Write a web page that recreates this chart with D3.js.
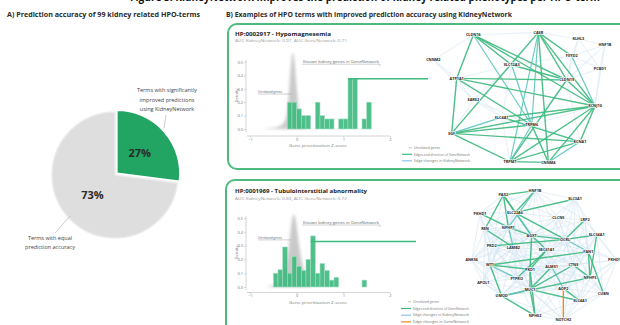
<!DOCTYPE html>
<html><head><meta charset="utf-8">
<script src="https://cdn.jsdelivr.net/npm/d3@7"></script>
<style>body{margin:0;background:#fff}svg{display:block}text{font-family:"Open Sans","Liberation Sans",sans-serif}</style>
</head><body><svg id="c" width="620" height="325"></svg>
<script>
// ---------------- DATA ----------------
const headerText = "Figure 3. KidneyNetwork improves the prediction of kidney related phenotypes per HPO-term";
const panelATitle = "A) Prediction accuracy of 99 kidney related HPO-terms";
const panelBTitle = "B) Examples of HPO terms with improved prediction accuracy using KidneyNetwork";

const pieCategories = ["Terms with significantly improved predictions using KidneyNetwork", "Terms with equal prediction accuracy"];
const pieValues = [27, 73];
const pieLabels = ["27%", "73%"];
const pieNoteTop = ["Terms with significantly", "improved predictions", "using KidneyNetwork"];
const pieNoteBottom = ["Terms with equal", "prediction accuracy"];

const exampleTitles = ["HP:0002917 - Hypomagnesemia", "HP:0001969 - Tubulointerstitial abnormality"];
const exampleSubtitles = ["AUC KidneyNetwork: 0.97, AUC GeneNetwork: 0.71", "AUC KidneyNetwork: 0.83, AUC GeneNetwork: 0.72"];

const yTickValues = [0, 0.1, 0.2, 0.3, 0.4, 0.5];
const xTickValues = [-1, 0, 1, 2];
const yAxisTitle = "Density";
const xAxisTitle = "Gene prioritization Z-score";
const binWidth = 0.1;

const hist1BinStart = [-0.2, -0.1, 0.0, 0.1, 0.2, 0.4, 0.5, 0.6, 0.7, 0.9, 1.0, 1.1, 1.2, 1.4, 1.5];
const hist1Density  = [0.2, 0.2, 0.15, 0.1, 0.1, 0.2, 0.1, 0.075, 0.075, 0.075, 0.075, 0.375, 0.375, 0.075, 0.2];
const null1X = [-0.75, -0.6, -0.45, -0.35, -0.25, -0.2, -0.15, -0.1, -0.05, 0, 0.05, 0.1, 0.2];
const null1Y = [0, 0.005, 0.01, 0.02, 0.05, 0.12, 0.35, 0.6, 0.55, 0.3, 0.12, 0.04, 0];

const hist2BinStart = [-0.5, -0.4, -0.3, -0.2, -0.1, 0.0, 0.1, 0.2, 0.3, 0.4, 0.5, 0.6, 0.7, 0.8, 1.4];
const hist2Density  = [0.1, 0.125, 0.29, 0.1, 0.22, 0.15, 0.12, 0.2, 0.37, 0.1, 0.17, 0.12, 0.05, 0.07, 0.05];
const null2X = [-0.7, -0.5, -0.4, -0.3, -0.2, -0.15, -0.1, -0.05, 0, 0.05, 0.1, 0.15, 0.2, 0.3];
const null2Y = [0, 0.01, 0.03, 0.08, 0.2, 0.35, 0.5, 0.55, 0.45, 0.3, 0.2, 0.12, 0.06, 0];

const histNotes = ["Unrelated genes", "Known kidney genes in GeneNetwork"];
const highlightValue = [1.1, 0.3];
const highlightLevel = [0.375, 0.33];

const legend1Labels = ["Unrelated genes", "Edges and direction of GeneNetwork", "Edge changes in KidneyNetwork"];
const legend2Labels = ["Unrelated genes", "Edges and direction of GeneNetwork", "Edge changes in KidneyNetwork", "Edge changes in GeneNetwork"];

// network 1 layout (layout units)
const net1Names = ["CLDN16","CASR","KLHL3","HNF1B","FXYD2","PCBD1","CNNM2","SLC12A3","ATP1A1","CLDN19","SARS2","KCNJ10","SLC4A1","TRPM6","EGF","KCNA1","TRPM7","CNNM4"];
const net1X = [160,355,475,555,455,540,40,275,110,440,160,525,245,335,95,480,270,385];
const net1Y = [105,97,117,135,168,205,180,195,235,240,300,318,352,375,400,425,485,487];
const net1Edges = [
 ["CLDN16","ATP1A1",0],["CLDN16","SLC12A3",0],["CLDN16","CLDN19",0],["CLDN16","KCNJ10",0],["CLDN16","TRPM6",1],
 ["CASR","CLDN19",0],["CASR","KCNJ10",0],["CASR","TRPM6",1],["CASR","CNNM4",0],["CASR","TRPM7",1],["CASR","EGF",0],
 ["ATP1A1","CLDN19",0],["ATP1A1","KCNJ10",0],["ATP1A1","EGF",0],["ATP1A1","TRPM6",0],
 ["EGF","KCNJ10",0],["EGF","TRPM6",0],["EGF","TRPM7",0],["EGF","KCNA1",0],["EGF","SLC4A1",1],
 ["SLC12A3","CLDN19",0],["SLC12A3","TRPM6",1],["CLDN19","KCNJ10",0],["CLDN19","TRPM7",0],
 ["KCNJ10","TRPM7",0],["KCNJ10","CNNM4",0],["KCNJ10","KCNA1",0],["KCNJ10","SLC4A1",0],
 ["TRPM7","CNNM4",0],["TRPM6","TRPM7",1],["TRPM6","CNNM4",0],["KCNA1","TRPM7",0],["KCNA1","CNNM4",1],
 ["SLC4A1","KCNA1",0],["FXYD2","KCNJ10",1],["CASR","FXYD2",0]
];

// network 2 layout (layout units)
const net2Names = ["HNF1B","PAX2","SLC3A1","PKHD1","SLC22A6","CLCN5","LRP2","REN","NPHP1","AGXT","SLC34A1","OCRL","PKD2","LAMB2","SEC61A1","FAN1","ANKS6","PKHD1L1","WT1","PKD1","ALMS1","CTNS","PTPRO","NPHP3","APOL1","MUC1","AQP2","CUBN","UMOD","SLC4A1","NPHS2","NOTCH2"];
const net2X = [345,250,465,180,285,415,495,195,265,335,530,435,215,280,380,505,155,590,210,330,395,460,290,510,190,330,430,550,245,480,345,430];
const net2Y = [62,75,87,130,128,143,150,177,172,197,195,208,228,232,240,245,270,270,285,298,290,285,325,323,338,358,355,370,378,393,437,450];
const net2Edges = [
 ["PAX2","SLC22A6",0],["PAX2","REN",0],["PAX2","AGXT",0],["HNF1B","SLC22A6",0],["SLC22A6","SLC3A1",0],["HNF1B","NPHP1",1],
 ["PAX2","NPHP1",0],["SLC22A6","AGXT",1],["SLC22A6","OCRL",0],["REN","LAMB2",0],["NPHP1","AGXT",0],["NPHP1","LAMB2",1],
 ["AGXT","OCRL",0],["AGXT","SEC61A1",0],["AGXT","PKD1",0],["OCRL","SLC34A1",0],["OCRL","FAN1",1],["LRP2","OCRL",0],
 ["SLC34A1","NPHP3",0],["WT1","FAN1",0],["PKD2","OCRL",0],["WT1","PKD1",0],["WT1","UMOD",0],["WT1","PTPRO",1],
 ["PKD1","SEC61A1",0],["PKD1","MUC1",0],["PKD1","NPHS2",0],["ALMS1","MUC1",0],["ALMS1","AQP2",1],["CTNS","NPHP3",0],
 ["CTNS","MUC1",0],["FAN1","NPHP3",0],["FAN1","CUBN",0],["UMOD","NPHP3",0],["MUC1","NPHS2",0],["MUC1","UMOD",1],
 ["MUC1","SLC4A1",0],["AQP2","SLC4A1",0],["UMOD","NPHS2",0],["PTPRO","SEC61A1",0],["HNF1B","PAX2",0],["PKHD1","NPHP1",0]
];
const net2OrangeEdges = [["AQP2","NOTCH2"]];

// ---------------- STYLE ----------------
const GREEN = "#3dba7e", PIEGREEN = "#22a463", TEAL = "#5fc6be", GRAY = "#dedede", FRAME = "#4cbb7d";
const svg = d3.select("#c");

const defs = svg.append("defs");
defs.append("filter").attr("id","blur").attr("x","-50%").attr("y","-50%").attr("width","200%").attr("height","200%")
  .append("feGaussianBlur").attr("stdDeviation", 1.6);
defs.append("filter").attr("id","soft").append("feGaussianBlur").attr("stdDeviation", 0.35);

// header fragment (cut off by the top edge, as in the reference)
svg.append("text").attr("x",130).attr("y",1.2).attr("font-size",13).attr("font-weight","bold").attr("fill","#111")
  .attr("textLength",470).attr("lengthAdjust","spacingAndGlyphs").text(headerText);

function fitText(g, str, x, y, size, w, opts={}) {
  const t = g.append("text").attr("x",x).attr("y",y).attr("font-size",size)
    .attr("fill", opts.fill || "#333").attr("font-weight", opts.weight || "normal")
    .attr("text-anchor", opts.anchor || "start").text(str);
  if (w) t.attr("textLength", w).attr("lengthAdjust","spacingAndGlyphs");
  return t;
}

// ---------------- PANEL A ----------------
fitText(svg, panelATitle, 7, 17, 6.5, 193, {weight:"bold", fill:"#2b2b2b"});
const pieG = svg.append("g").attr("transform","translate(115,175)");
const pie = d3.pie().sort(null).value(d => d)(pieValues);
const arc = d3.arc().innerRadius(0).outerRadius(63);
pieG.selectAll("path").data(pie).join("path")
  .attr("d", arc)
  .attr("transform", (d,i) => {
    if (i !== 0) return null;
    const m = (d.startAngle + d.endAngle) / 2;
    return `translate(${Math.sin(m)*2.5},${-Math.cos(m)*2.5})`;
  })
  .attr("fill", (d,i) => i === 0 ? PIEGREEN : GRAY)
  .attr("stroke", (d,i) => i === 0 ? "#fff" : "#ececec").attr("stroke-width", 1.5);
pieG.selectAll("text.pct").data(pie).join("text").attr("class","pct")
  .attr("transform", (d,i) => { const c = d3.arc().innerRadius(0).outerRadius(i===0?66:60).centroid(d); return `translate(${c[0]},${c[1]+4})`; })
  .attr("text-anchor","middle").attr("font-size",11).attr("font-weight","bold").attr("fill","#2a2a2a")
  .text((d,i) => pieLabels[i]);
pieNoteTop.forEach((s,i) => fitText(svg, s, 167, 92 + i*9.5, 5.5, null, {anchor:"middle", fill:"#444"}));
svg.append("line").attr("x1",166).attr("y1",115).attr("x2",164).attr("y2",128).attr("stroke","#aaa").attr("stroke-width",0.6);
pieNoteBottom.forEach((s,i) => fitText(svg, s, 50, 240 + i*9, 5.5, null, {anchor:"middle", fill:"#444"}));
svg.append("line").attr("x1",55).attr("y1",233).attr("x2",70).attr("y2",216).attr("stroke","#aaa").attr("stroke-width",0.6);

// ---------------- PANEL B ----------------
fitText(svg, panelBTitle, 226, 17, 6.5, 286, {weight:"bold", fill:"#2b2b2b"});
svg.append("rect").attr("x",228).attr("y",24).attr("width",420).attr("height",145).attr("rx",9)
  .attr("fill","none").attr("stroke",FRAME).attr("stroke-width",2);
svg.append("rect").attr("x",226).attr("y",180).attr("width",420).attr("height",170).attr("rx",9)
  .attr("fill","none").attr("stroke",FRAME).attr("stroke-width",2);

fitText(svg, exampleTitles[0], 235, 36, 6, 96, {weight:"bold", fill:"#222"});
fitText(svg, exampleSubtitles[0], 235, 42, 4, 112, {fill:"#999"});
fitText(svg, exampleTitles[1], 235, 193, 6, 132, {weight:"bold", fill:"#222"});
fitText(svg, exampleSubtitles[1], 235, 199.5, 4, 112, {fill:"#999"});

function drawHist(cfg) {
  const g = svg.append("g");
  const x = d3.scaleLinear().domain([-1, 2]).range([250, 390]);
  const y = d3.scaleLinear().domain([0, 0.5]).range([cfg.y0, cfg.y1]);
  const pts = cfg.nullX.map((v,i) => [v, cfg.nullY[i]]);
  g.append("path").datum(pts)
    .attr("d", d3.area().x(d => x(d[0])).y0(y(0)).y1(d => y(d[1])).curve(d3.curveBasis))
    .attr("fill","#b8b8b8").attr("opacity",0.75).attr("filter","url(#blur)");
  g.selectAll("rect.bar").data(cfg.starts).join("rect").attr("class","bar")
    .attr("x", d => x(d)).attr("width", d => x(d + binWidth) - x(d))
    .attr("y", (d,i) => y(cfg.dens[i])).attr("height", (d,i) => y(0) - y(cfg.dens[i]))
    .attr("fill", GREEN).attr("opacity",0.9).attr("stroke","#9fdcc0").attr("stroke-width",0.6).attr("filter","url(#soft)");
  const ya = g.append("g").attr("transform",`translate(246,0)`)
    .call(d3.axisLeft(y).tickValues(yTickValues).tickSize(2).tickPadding(1).tickFormat(d3.format(".1f")));
  const xa = g.append("g").attr("transform",`translate(0,${cfg.xAxisY})`)
    .call(d3.axisBottom(x).tickValues(xTickValues).tickSize(1.5).tickPadding(0.5).tickFormat(d3.format("d")));
  [ya, xa].forEach(a => {
    a.selectAll("path,line").attr("stroke","#bbb").attr("stroke-width",0.6);
    a.selectAll("text").attr("font-size",4).attr("fill","#777");
    a.select(".domain").attr("d", null);
  });
  g.append("line").attr("x1",246).attr("x2",246).attr("y1",cfg.y1-2).attr("y2",cfg.y0+3).attr("stroke","#bbb").attr("stroke-width",0.6);
  g.append("line").attr("x1",247).attr("x2",390).attr("y1",cfg.xAxisY).attr("y2",cfg.xAxisY).attr("stroke","#bbb").attr("stroke-width",0.6);
  fitText(g, yAxisTitle, 0, 0, 4, null, {fill:"#777", anchor:"middle"})
    .attr("transform",`translate(238,${(cfg.y0+cfg.y1)/2}) rotate(-90)`);
  fitText(g, xAxisTitle, 318, cfg.xAxisY + 11, 4, 58, {fill:"#777", anchor:"middle"});
  const yU = y(cfg.unrelY);
  fitText(g, histNotes[0], 258, yU, 3.8, 24, {fill:"#666"});
  g.append("line").attr("x1",258).attr("x2",x(-0.12)).attr("y1",yU+1.2).attr("y2",yU+1.2).attr("stroke","#888").attr("stroke-width",0.4);
  const yK = y(cfg.knownY);
  fitText(g, histNotes[1], 303, yK, 3.8, 76, {fill:"#666"});
  g.append("path").attr("d",`M302,${yK+1.5}H380v2`).attr("fill","none").attr("stroke","#888").attr("stroke-width",0.4);
  g.append("line").attr("x1", x(cfg.hv)).attr("x2", cfg.lineEnd)
    .attr("y1", y(cfg.hl)).attr("y2", y(cfg.hl)).attr("stroke",GREEN).attr("stroke-width",1.4);
}
drawHist({y0:129, y1:62, xAxisY:136, starts:hist1BinStart, dens:hist1Density, nullX:null1X, nullY:null1Y,
  unrelY:0.27, knownY:0.495, hv:highlightValue[0], hl:highlightLevel[0], lineEnd:428});
drawHist({y0:287, y1:218, xAxisY:292.5, starts:hist2BinStart, dens:hist2Density, nullX:null2X, nullY:null2Y,
  unrelY:0.35, knownY:0.46, hv:highlightValue[1], hl:highlightLevel[1], lineEnd:416});

function drawNet(names, nx, ny, edges, orange, yRange) {
  const g = svg.append("g");
  const x = d3.scaleLinear().domain([0,600]).range([420,620]);
  const y = d3.scaleLinear().domain([0, yRange[2]]).range([yRange[0], yRange[1]]);
  const idx = {}; names.forEach((n,i) => idx[n] = i);
  const faint = [];
  for (let i=0;i<names.length;i++) for (let j=i+1;j<names.length;j++) {
    const d = Math.hypot(nx[i]-nx[j], ny[i]-ny[j]);
    if (d < 200) faint.push([i,j]);
  }
  g.selectAll("line.f").data(faint).join("line").attr("class","f")
    .attr("x1",d=>x(nx[d[0]])).attr("y1",d=>y(ny[d[0]])).attr("x2",d=>x(nx[d[1]])).attr("y2",d=>y(ny[d[1]]))
    .attr("stroke","#cfe2f1").attr("stroke-width",1.2).attr("opacity",0.45).attr("filter","url(#soft)");
  g.selectAll("line.e").data(edges).join("line").attr("class","e")
    .attr("x1",d=>x(nx[idx[d[0]]])).attr("y1",d=>y(ny[idx[d[0]]]))
    .attr("x2",d=>x(nx[idx[d[1]]])).attr("y2",d=>y(ny[idx[d[1]]]))
    .attr("stroke",d=>d[2] ? TEAL : GREEN).attr("stroke-width",d=>d[2]?1.2:1.4).attr("opacity",0.9);
  g.selectAll("line.o").data(orange).join("line").attr("class","o")
    .attr("x1",d=>x(nx[idx[d[0]]])).attr("y1",d=>y(ny[idx[d[0]]]))
    .attr("x2",d=>x(nx[idx[d[1]]])).attr("y2",d=>y(ny[idx[d[1]]]))
    .attr("stroke","#f08a24").attr("stroke-width",1.4);
  g.selectAll("text").data(names).join("text")
    .attr("x",(d,i)=>x(nx[i])).attr("y",(d,i)=>y(ny[i])+1.4)
    .attr("text-anchor","middle").attr("font-size",3.8).attr("font-weight","bold").attr("fill","#222")
    .attr("stroke","#fff").attr("stroke-width",1.2).attr("paint-order","stroke").text(d=>d);
}
drawNet(net1Names, net1X, net1Y, net1Edges, [], [0,170,510]);
drawNet(net2Names, net2X, net2Y, net2Edges, net2OrangeEdges, [170,325,465]);

function drawLegend(labels, colors, x0, yStart, step) {
  const g = svg.append("g");
  labels.forEach((s,i) => {
    const yy = yStart + i*step;
    g.append("line").attr("x1", i===0 ? x0+7 : x0).attr("x2", x0+10).attr("y1",yy-1.2).attr("y2",yy-1.2)
      .attr("stroke",colors[i]).attr("stroke-width", i===0?0.6:1.2);
    fitText(g, s, x0+12, yy, 3.8, i===0 ? 26 : 56, {fill:"#777"});
  });
}
drawLegend(legend1Labels, ["#999", GREEN, "#8fc3e6"], 402, 149, 6.5);
drawLegend(legend2Labels, ["#999", GREEN, "#8fc3e6", "#f08a24"], 401, 303, 6.7);
</script></body></html>
